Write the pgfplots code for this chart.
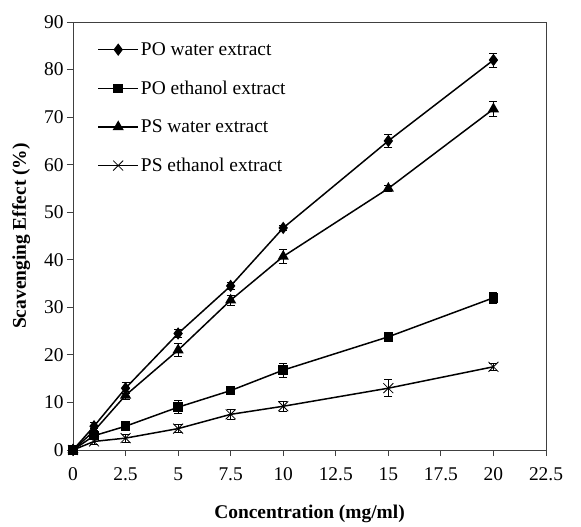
\documentclass[border=0pt]{standalone}
\usepackage{fontspec}
\setmainfont{Liberation Serif}
\usepackage{pgfplots}
\pgfplotsset{compat=1.18}
\pgfplotsset{
  eb/.style={error bars/y dir=both, error bars/y explicit,
    error bars/error bar style={line width=0.8pt, solid},
    error bars/error mark options={rotate=90, mark size=4bp, line width=0.8pt}},
}
\newcommand{\chartfont}{\fontsize{19.5}{22}\selectfont}
\begin{document}
\begin{tikzpicture}
\path[use as bounding box] (-73bp,-77bp) rectangle (508bp,450bp);
\begin{axis}[scale only axis, width=473bp, height=428bp,
  at={(0,0)}, anchor=south west,
  xmin=0, xmax=22.5, ymin=0, ymax=90,
  xtick={0,2.5,...,22.5}, ytick={0,10,...,90},
  /pgf/number format/assume math mode=true,
  xticklabel style={/pgf/number format/fixed, yshift=-8bp},
  tick label style={font=\chartfont},
  label style={font=\chartfont\bfseries},
  tick align=outside, tick pos=left,
  major tick length=6bp,
  axis line style={line width=1pt, black!75},
  tick style={line width=0.8pt, black!75},
  xlabel={Concentration (mg/ml)},
  ylabel={Scavenging Effect (\%)},
  xlabel style={yshift=-18bp},
  ylabel style={yshift=7bp},
  legend cell align=left,
  legend style={draw=none, fill=none, at={(0.045,0.962)}, anchor=north west,
    row sep=20bp, font=\chartfont},
  legend image code/.code={\draw[#1] (0bp,0bp) -- (20bp,0bp) plot coordinates {(20bp,0bp)} -- (40bp,0bp);},
  every axis plot/.append style={line width=1.5pt, black},
]
\addplot[eb, mark=diamond*, mark size=5bp] coordinates {
  (0,0) +- (0,0.5) (1,5) +- (0,0.8) (2.5,13) +- (0,1.2) (5,24.5) +- (0,0.8)
  (7.5,34.5) +- (0,0.7) (10,46.7) +- (0,0.6) (15,65) +- (0,1.3) (20,82) +- (0,1.5)};
\addlegendentry{PO water extract}
\addplot[eb, mark=square*, mark size=4bp] coordinates {
  (0,0) +- (0,0.5) (1,3) +- (0,0.5) (2.5,5) +- (0,0.6) (5,9) +- (0,1.4)
  (7.5,12.5) +- (0,0.6) (10,16.8) +- (0,1.5) (15,23.8) +- (0,1.0) (20,32) +- (0,1.2)};
\addlegendentry{PO ethanol extract}
\addplot[eb, mark=triangle*, mark size=5bp] coordinates {
  (0,0) +- (0,0.5) (1,4) +- (0,0.5) (2.5,11.5) +- (0,0.8) (5,21) +- (0,1.4)
  (7.5,31.5) +- (0,1.0) (10,40.7) +- (0,1.4) (15,55) +- (0,0.6) (20,71.7) +- (0,1.6)};
\addlegendentry{PS water extract}
\addplot[eb, mark=x, mark size=7bp, mark options={line width=0.8pt}] coordinates {
  (0,0) +- (0,0.5) (1,1.8) +- (0,0.6) (2.5,2.5) +- (0,0.8) (5,4.5) +- (0,0.8)
  (7.5,7.5) +- (0,1.0) (10,9.2) +- (0,1.0) (15,13) +- (0,1.8) (20,17.5) +- (0,0.8)};
\addlegendentry{PS ethanol extract}
\end{axis}
\end{tikzpicture}
\end{document}
